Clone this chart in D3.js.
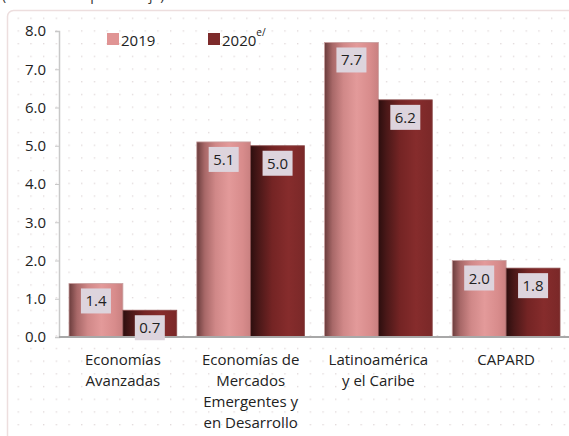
<!DOCTYPE html>
<html><head><meta charset="utf-8">
<script src="https://cdn.jsdelivr.net/npm/d3@7"></script>
<style>body{margin:0;background:#fff}svg{display:block}</style>
</head><body>
<svg id="c" width="569" height="436"></svg>
<script>
const categories = [["Economías","Avanzadas"],["Economías de","Mercados","Emergentes y","en Desarrollo"],["Latinoamérica","y el Caribe"],["CAPARD"]];
const series = ["2019","2020"];
const values2019 = [1.4, 5.1, 7.7, 2.0];
const values2020 = [0.7, 5.0, 6.2, 1.8];
const yTicks = [0,1,2,3,4,5,6,7,8];
const subtitle = "(Variación en porcentaje)";

const svg = d3.select("#c");
const font = "'Open Sans', 'Noto Sans', sans-serif";
const defs = svg.append("defs");

// dotted background pattern
const pat = defs.append("pattern").attr("id","dots").attr("patternUnits","userSpaceOnUse")
  .attr("width",12.7).attr("height",12.7);
pat.append("rect").attr("x",5).attr("y",5).attr("width",1.2).attr("height",1.2).attr("fill","#d9cfd0");

function grad(id, stops){
  const g = defs.append("linearGradient").attr("id",id).attr("x1","0").attr("x2","1").attr("y1","0").attr("y2","0");
  stops.forEach(s=>g.append("stop").attr("offset",s[0]).attr("stop-color",s[1]));
}
grad("g2019",[[0,"#6a3c3c"],[0.15,"#a86868"],[0.35,"#d08888"],[0.6,"#e39a9a"],[0.85,"#d88c8c"],[1,"#c98080"]]);
grad("g2020",[[0,"#2c0e0e"],[0.15,"#4a1818"],[0.4,"#742424"],[0.7,"#862c2c"],[1,"#7a2828"]]);
const legendColors = {"2019":"#e09494","2020":"#7d2b2b"};

// background
svg.append("rect").attr("x",0).attr("y",0).attr("width",569).attr("height",436).attr("fill","#fff");
svg.append("rect").attr("x",7.5).attr("y",10.5).attr("width",575).attr("height",440).attr("rx",6)
  .attr("fill","url(#dots)").attr("stroke","#eddede").attr("stroke-width",1.5);

// subtitle clipped at top
svg.append("text").attr("x",2).attr("y",-0.5).attr("font-family",font).attr("font-size",14)
  .attr("fill","#333").text(subtitle);

const y = d3.scaleLinear().domain([0,8]).range([337,31]);
const x0 = d3.scaleBand().domain(d3.range(categories.length)).range([59,570]);
const x1 = d3.scaleBand().domain(series).range([10, x0.bandwidth()-10]);

// y axis
const yAxis = svg.append("g").attr("transform","translate(59,0)")
  .call(d3.axisLeft(y).tickValues(yTicks).tickFormat(d3.format(".1f")).tickSize(4).tickPadding(9));
yAxis.select(".domain").attr("stroke","#c8c8c8").attr("stroke-width",1.5);
yAxis.selectAll(".tick line").attr("stroke","#c8c8c8");
yAxis.selectAll("text").attr("font-family",font).attr("font-size",15).attr("fill","#222");

// bars
const data = [];
categories.forEach((c,i)=>{
  data.push({i, s:"2019", v:values2019[i]});
  data.push({i, s:"2020", v:values2020[i]});
});
const bars = svg.append("g");
bars.selectAll("rect").data(data).join("rect")
  .attr("x",d=>x0(d.i)+x1(d.s))
  .attr("y",d=>y(d.v))
  .attr("width",x1.bandwidth())
  .attr("height",d=>y(0)-y(d.v))
  .attr("fill",d=>`url(#g${d.s})`)
  .attr("stroke",d=>d.s==="2019"?"#c9a0a0":"#8a4a4a").attr("stroke-width",0.8);

// x axis line
svg.append("line").attr("x1",59).attr("x2",570).attr("y1",337).attr("y2",337)
  .attr("stroke","#a8a8a8").attr("stroke-width",2);

// value labels
const lab = svg.append("g").selectAll("g").data(data).join("g")
  .attr("transform",d=>`translate(${x0(d.i)+x1(d.s)+x1.bandwidth()/2},${y(d.v)+5})`);
lab.append("rect").attr("x",-15).attr("y",0).attr("width",30).attr("height",25).attr("fill","#ddd4dd");
lab.append("text").attr("x",0).attr("y",18).attr("text-anchor","middle")
  .attr("font-family",font).attr("font-size",15).attr("fill","#222").text(d=>d.v.toFixed(1));

// category labels
const cl = svg.append("g").selectAll("text").data(categories).join("text")
  .attr("text-anchor","middle").attr("font-family",font).attr("font-size",15).attr("fill","#222")
  .attr("transform",(d,i)=>`translate(${x0(i)+x0.bandwidth()/2},365)`);
cl.selectAll("tspan").data(d=>d).join("tspan").attr("x",0).attr("dy",(d,j)=>j?21:0).text(d=>d);

// legend
const leg = svg.append("g");
const lx = [107,208];
series.forEach((s,k)=>{
  leg.append("rect").attr("x",lx[k]).attr("y",33).attr("width",12).attr("height",12).attr("fill",legendColors[s]);
  const t = leg.append("text").attr("x",lx[k]+14).attr("y",45.5).attr("font-family",font).attr("font-size",15).attr("fill","#222").text(s);
  if(s==="2020") t.append("tspan").attr("dy",-10).attr("font-size",10).text("e/");
});
</script>
</body></html>
